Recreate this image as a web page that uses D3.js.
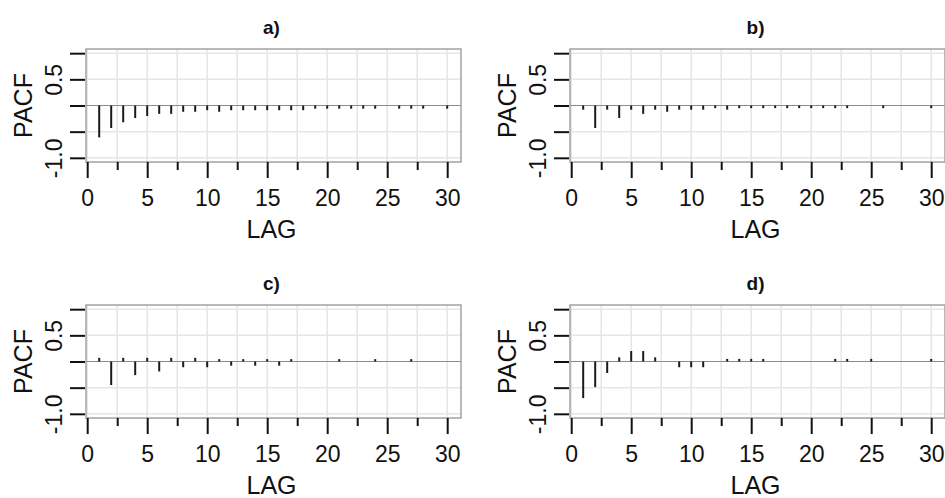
<!DOCTYPE html>
<html lang="en">
<head>
  <meta charset="UTF-8">
  <title>PACF panels</title>
  <script src="https://d3js.org/d3.v7.min.js"></script>
  <style>
    body { margin: 0; background: #fff; }
    svg text { font-family: "Liberation Sans", Arial, sans-serif; fill: #111; }
    .grid line { stroke: #e6e6e6; stroke-width: 1.5px; }
    .zero { stroke: #8c8c8c; stroke-width: 1.2px; }
    .frame { fill: none; stroke: #a3a3a3; stroke-width: 1.5px; }
    .bar { stroke: #1a1a1a; stroke-width: 2px; }
    .tick line { stroke: #111; stroke-width: 2px; }
  </style>
</head>
<body>
  <svg id="chart" width="945" height="498"></svg>

  <script>
    // Lags and PACF values (0 = no visible bar)
    const lags = [1, 2, 3, 4, 5, 6, 7, 8, 9, 10, 11, 12, 13, 14, 15,
                  16, 17, 18, 19, 20, 21, 22, 23, 24, 25, 26, 27, 28, 29, 30];

    const pacfA = [-0.61, -0.43, -0.32, -0.24, -0.20, -0.16, -0.16, -0.12, -0.12, -0.09,
                   -0.12, -0.09, -0.09, -0.09, -0.09, -0.09, -0.09, -0.09, -0.06, -0.06,
                   -0.06, -0.06, -0.06, -0.06, 0, -0.06, -0.06, -0.06, 0, -0.06];

    const pacfB = [-0.08, -0.43, -0.08, -0.24, -0.08, -0.16, -0.08, -0.12, -0.08, -0.08,
                   -0.08, -0.05, -0.08, -0.05, -0.05, -0.05, -0.05, -0.05, -0.05, -0.05,
                   -0.05, -0.05, -0.05, 0, 0, -0.05, 0, 0, 0, -0.05];

    const pacfC = [0.07, -0.45, 0.07, -0.26, 0.07, -0.19, 0.07, -0.11, 0.07, -0.11,
                   0.045, -0.08, 0.045, -0.08, 0.045, -0.08, 0.045, 0, 0, 0,
                   0.045, 0, 0, 0.045, 0, 0, 0.045, 0, 0, 0];

    const pacfD = [-0.70, -0.49, -0.22, 0.08, 0.20, 0.20, 0.08, 0, -0.11, -0.11,
                   -0.11, 0, 0.05, 0.05, 0.05, 0.05, 0, 0, 0, 0,
                   0, 0.05, 0.05, 0, 0.05, 0, 0, 0, 0, 0.05];

    const titles = ["a)", "b)", "c)", "d)"];
    const xMajor = [0, 5, 10, 15, 20, 25, 30];
    const xMinor = [2.5, 7.5, 12.5, 17.5, 22.5, 27.5];
    const yTicks = [-1, -0.5, 0, 0.5, 1];
    const yLabels = { "0.5": "0.5", "-1": "-1.0" };
    const xLabel = "LAG";
    const yLabel = "PACF";

    // panel frames
    const pw = 375, ph = 113;
    const layout = [
      { left: 86, top: 49 },
      { left: 570, top: 49 },
      { left: 86, top: 305 },
      { left: 570, top: 305 }
    ];
    const series = [pacfA, pacfB, pacfC, pacfD];

    const svg = d3.select("#chart");

    const x = d3.scaleLinear().domain([-0.1, 31.15]).range([0, pw]);
    const y = d3.scaleLinear().domain([-1.08, 1.08]).range([ph, 0]);

    series.forEach((vals, i) => {
      const g = svg.append("g")
        .attr("transform", `translate(${layout[i].left},${layout[i].top})`);

      // grid
      const grid = g.append("g").attr("class", "grid");
      grid.selectAll(".gv")
        .data(xMajor.concat(xMinor))
        .join("line")
        .attr("x1", d => x(d)).attr("x2", d => x(d))
        .attr("y1", 0).attr("y2", ph);
      grid.selectAll(".gh")
        .data(yTicks.filter(d => d !== 0))
        .join("line")
        .attr("x1", 0).attr("x2", pw)
        .attr("y1", d => y(d)).attr("y2", d => y(d));

      // zero line
      g.append("line")
        .attr("class", "zero")
        .attr("x1", 0).attr("x2", pw)
        .attr("y1", y(0)).attr("y2", y(0));

      // PACF spikes
      g.selectAll(".bar")
        .data(lags.map((l, j) => ({ lag: l, v: vals[j] })).filter(d => d.v !== 0))
        .join("line")
        .attr("class", "bar")
        .attr("x1", d => x(d.lag)).attr("x2", d => x(d.lag))
        .attr("y1", y(0)).attr("y2", d => y(d.v));

      g.append("rect")
        .attr("class", "frame")
        .attr("width", pw).attr("height", ph);

      // x axis: long major ticks, short minor ticks
      const xa = g.append("g")
        .attr("transform", `translate(0,${ph})`)
        .call(d3.axisBottom(x).tickValues(xMajor).tickSize(16).tickFormat(d3.format("d")));
      xa.select(".domain").remove();
      xa.selectAll("text")
        .attr("y", 44).attr("dy", 0)
        .style("font-size", "23px");

      const xm = g.append("g")
        .attr("transform", `translate(0,${ph})`)
        .call(d3.axisBottom(x).tickValues(xMinor).tickSize(8).tickFormat(""));
      xm.select(".domain").remove();

      // y axis: ticks to the left, rotated labels
      const ya = g.append("g")
        .attr("transform", "translate(-1,0)")
        .call(d3.axisLeft(y).tickValues(yTicks).tickSize(15)
          .tickFormat(d => yLabels[String(d)] || ""));
      ya.select(".domain").remove();
      ya.selectAll("text")
        .attr("x", null).attr("dy", 0)
        .attr("text-anchor", "middle")
        .attr("transform", "translate(-23,0) rotate(-90)")
        .style("font-size", "23px");

      // axis titles
      g.append("text")
        .attr("x", pw / 2 - 2).attr("y", ph + 76)
        .attr("text-anchor", "middle")
        .style("font-size", "25px")
        .text(xLabel);

      g.append("text")
        .attr("transform", `translate(-54,${ph / 2}) rotate(-90)`)
        .attr("text-anchor", "middle")
        .style("font-size", "25px")
        .text(yLabel);

      g.append("text")
        .attr("x", pw / 2 - 2).attr("y", -15)
        .attr("text-anchor", "middle")
        .style("font-size", "19px")
        .style("font-weight", "bold")
        .text(titles[i]);
    });
  </script>
</body>
</html>
